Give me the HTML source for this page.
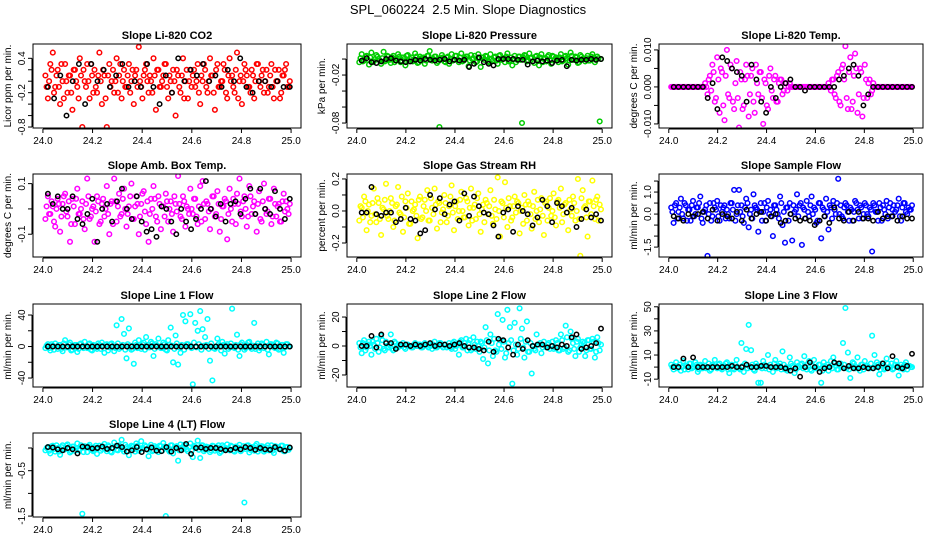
<!DOCTYPE html>
<html><head><meta charset="utf-8"><style>
html,body{margin:0;padding:0;background:#fff;}
svg{display:block;font-family:"Liberation Sans",Arial,sans-serif;}
</style></head><body>
<svg id="c" width="936" height="540" viewBox="0 0 936 540">
<rect width="936" height="540" fill="#fff"/>
<text x="468" y="14" text-anchor="middle" font-size="13" style="white-space:pre">SPL_060224  2.5 Min. Slope Diagnostics</text>
</svg>
<script>
const xTicks=[24.0,24.2,24.4,24.6,24.8,25.0];
const xTickLabels=["24.0","24.2","24.4","24.6","24.8","25.0"];
const titles=["Slope Li-820 CO2","Slope Li-820 Pressure","Slope Li-820 Temp.","Slope Amb. Box Temp.","Slope Gas Stream RH","Slope Sample Flow","Slope Line 1 Flow","Slope Line 2 Flow","Slope Line 3 Flow","Slope Line 4 (LT) Flow"];
const yTitles=["Licor ppm per min.","kPa per min.","degrees C per min.","degrees C per min.","percent per min.","ml/min per min.","ml/min per min.","ml/min per min.","ml/min per min.","ml/min per min."];
const colors=["#ff0000","#00cc00","#ff00ff","#ff00ff","#ffff00","#0000ff","#00ffff","#00ffff","#00ffff","#00ffff"];
const yLims=[[-0.817,0.65],[-0.0862,0.0188],[-0.0111,0.0116],[-0.19,0.138],[-0.2875,0.231],[-1.95,1.82],[-51.4,54],[-28.3,29],[-16.5,52.3],[-1.52,0.33]];
const yTicks=[[-0.8,-0.6,-0.4,-0.2,0,0.2,0.4],[-0.08,-0.06,-0.04,-0.02,0],[-0.01,-0.005,0,0.005,0.01],[-0.1,0,0.1],[-0.2,-0.1,0,0.1,0.2],[-1.5,-1,-0.5,0,0.5,1,1.5],[-40,-20,0,20,40],[-20,-10,0,10,20],[-10,0,10,20,30,40,50],[-1.5,-1,-0.5,0]];
const yLabels=[{"-0.8":"-0.8","-0.2":"-0.2","0.4":"0.4"},{"-0.08":"-0.08","-0.02":"-0.02"},{"-0.01":"-0.010","0":"0.000","0.01":"0.010"},{"-0.1":"-0.1","0.1":"0.1"},{"-0.2":"-0.2","0":"0.0","0.2":"0.2"},{"-1.5":"-1.5","0":"0.0","1":"1.0"},{"-40":"-40","0":"0","40":"40"},{"-20":"-20","0":"0","20":"20"},{"-10":"-10","10":"10","30":"30","50":"50"},{"-1.5":"-1.5","-0.5":"-0.5"}];

const col0=[0.1,-0.3,0.3,0.5,-0.1,0.2,-0.4,0.0,0.3,-0.2,0.1,-0.5,0.2,-0.1,0.4,-0.8,0.0,0.3,-0.3,0.1,0.2,-0.2,0.5,-0.4,0.1,-0.8,0.3,0.0,-0.2,0.4,0.1,-0.3,0.2,-0.1,0.3,0.0,-0.4,0.2,0.6,-0.1,0.1,0.3,-0.2,0.0,0.4,-0.5,0.2,-0.1,0.1,0.3,-0.3,0.0,0.2,-0.6,0.1,-0.2,0.4,0.0,-0.3,0.2,0.1,-0.1,0.3,-0.4,0.0,0.2,-0.2,0.4,0.1,-0.5,0.3,-0.1,0.0,0.2,-0.3,0.4,0.1,-0.2,0.5,0.0,-0.4,0.3,0.1,-0.1,0.2,-0.3,0.3,0.0,0.1,-0.2,0.2,-0.1,0.3,-0.3,0.0,0.2,-0.2,0.1,0.3,-0.1];
const col0b=[-0.1,0.0,0.2,-0.2,0.1,-0.1,0.3,-0.3,0.0,0.1,-0.2,0.2,0.0,-0.3,0.1,0.2,-0.1,0.0,0.3,-0.2,-0.1,0.1,0.0,0.2,-0.3,0.1,-0.1,0.2,0.0,-0.2,0.3,0.0,-0.1,0.1,-0.2,0.2,0.1,-0.1,0.0,-0.3,0.2,0.0,0.1,-0.2,0.1,0.2,-0.1,0.0,0.3,-0.1,0.1,-0.2,0.0,0.2,-0.1,0.1,-0.3,0.2,0.0,-0.1,0.2,0.0,-0.2,0.1,0.3,-0.1,0.0,0.1,-0.2,0.2,-0.1,0.0,0.3,-0.2,0.1,0.0,-0.1,0.2,-0.3,0.1,0.0,0.2,-0.1,-0.2,0.1,0.0,0.3,-0.1,0.2,0.0,-0.2,0.1,-0.1,0.2,0.0,-0.3,0.1,0.2,-0.1,0.0];
const blk0=[-0.1,-0.3,0.1,-0.6,0.0,0.3,-0.4,0.3,0.0,0.2,-0.1,0.1,0.3,-0.1,0.0,-0.1,0.3,-0.1,-0.4,0.1,-0.2,0.4,0.0,0.2,0.1,0.3,0.0,0.1,-0.1,0.2,0.0,0.4,-0.1,-0.2,0.0,0.0,-0.1,0.0,-0.1,-0.1];
const col1=[-0.004,0.006,-0.002,0.004,-0.007,0.008,-0.003,0.005,0.0,-0.006,0.009,-0.002,0.003,-0.005,0.004,-0.001,0.006,-0.004,0.002,-0.008,0.005,0.0,-0.003,0.007,-0.005,0.003,0.001,-0.006,0.004,0.010,-0.002,0.003,-0.005,-0.085,0.005,-0.003,0.002,-0.006,0.006,-0.001,0.004,-0.004,0.007,-0.002,0.003,-0.009,0.005,0.001,-0.004,0.006,-0.010,0.002,0.004,-0.003,0.006,-0.002,0.003,-0.006,0.005,0.0,-0.004,0.007,-0.002,-0.008,0.004,-0.001,0.003,-0.080,0.005,-0.003,0.007,0.002,-0.005,0.004,-0.008,0.006,0.0,-0.003,0.005,-0.006,0.003,0.002,-0.004,0.006,-0.002,0.004,-0.007,0.008,-0.001,0.003,-0.005,0.005,0.0,-0.003,0.004,-0.002,0.006,-0.004,0.003,-0.078];
const col1b=[0.001,-0.003,0.003,-0.001,0.002,-0.004,0.000,0.003,-0.002,0.001,-0.003,0.004,-0.001,0.002,-0.004,0.001,0.003,-0.002,0.000,0.004,-0.003,0.002,-0.001,0.003,-0.004,0.001,0.002,-0.002,0.004,-0.001,0.000,0.003,-0.003,0.001,0.002,-0.004,0.003,0.000,-0.002,0.004,-0.001,0.002,-0.003,0.001,0.003,-0.002,0.000,0.004,-0.003,0.001,0.002,-0.001,0.003,-0.004,0.000,0.002,-0.002,0.004,-0.001,0.001,0.003,-0.003,0.002,0.000,-0.004,0.003,-0.001,0.002,0.004,-0.002,0.001,-0.003,0.003,0.000,0.002,-0.004,0.001,0.003,-0.002,0.004,-0.001,0.000,0.002,-0.003,0.003,0.001,-0.002,0.004,-0.001,0.002,-0.004,0.003,0.000,0.001,-0.002,0.003,0.002,-0.001,0.001,0.000];
const blk1=[-0.002,0.001,-0.004,-0.005,-0.003,0.0,0.001,-0.002,-0.003,-0.004,-0.003,-0.001,-0.002,0.0,-0.001,-0.002,-0.001,0.0,-0.003,-0.001,-0.002,-0.001,-0.010,-0.006,0.002,-0.004,-0.006,-0.008,0.0,0.0,0.0,0.0,-0.001,-0.001,-0.007,-0.003,-0.002,-0.003,-0.002,-0.005,-0.002,-0.001,-0.009,-0.001,-0.002,-0.001,-0.001,0.0,-0.001,0.0];
const col2=[0,0,0,0,0,0,0,0,0,0,0,0,0,0,0.001,-0.002,0.003,0.006,-0.004,0.008,-0.007,0.004,-0.009,0.010,-0.003,0.005,-0.006,0.007,-0.011,0.002,-0.005,0.006,-0.008,0.003,-0.004,0.006,-0.002,0.004,-0.010,0.001,-0.006,0.005,-0.003,0.003,-0.004,0.002,-0.002,0.001,-0.001,0.001,0,0,0,0,0,0,0,0,0,0,0,0,0,0,0,0.001,-0.001,0.002,-0.003,0.004,-0.005,0.006,0.011,-0.006,0.008,-0.004,0.009,-0.007,0.005,-0.008,0.006,-0.003,0.002,-0.001,0,0,0,0,0,0,0,0,0,0,0,0,0,0,0,0];
const col2b=[0,0,0,0,0,0,0,0,0,0,0,0,0,0,0,0.002,-0.001,0.004,-0.003,0.002,0.005,-0.005,0.003,-0.002,0.006,-0.004,0.001,-0.003,0.004,-0.006,0.002,0.003,-0.002,0.005,-0.007,0.001,0.004,-0.003,0.002,-0.005,0.003,-0.001,0.002,-0.004,0.001,0.002,-0.001,0.001,0,0,0,0,0,0,0,0,0,0,0,0,0,0,0,0,0,0,0.002,-0.002,0.003,-0.004,0.005,0.002,-0.003,0.004,-0.006,0.003,0.005,-0.002,0.004,-0.003,0.002,0.001,-0.002,0.001,0,0,0,0,0,0,0,0,0,0,0,0,0,0,0,0];
const blk2=[0,0,0,0,0,0,0,-0.003,0.001,-0.006,0.008,0.007,0.005,0.004,0.003,-0.004,0.006,0.002,-0.004,-0.007,0.0,-0.003,0.0,0.001,0.002,0.0,0.0,-0.001,0.0,0.0,0.0,0.0,0.0,0.0,0.002,0.003,0.005,0.006,0.003,-0.005,-0.002,0.0,0.0,0.0,0.0,0.0,0.0,0.0,0.0,0.0];
const col3=[-0.04,0.05,-0.02,0.01,-0.07,0.04,-0.09,0.02,0.06,-0.03,-0.13,0.04,-0.06,0.08,-0.02,0.03,-0.08,0.12,-0.04,0.00,-0.13,0.05,-0.06,0.02,-0.03,0.09,-0.10,0.03,0.12,-0.05,0.06,-0.02,0.08,-0.07,0.01,0.10,-0.04,0.05,-0.10,0.02,0.07,-0.06,-0.13,0.04,0.09,-0.03,0.05,-0.08,0.01,0.06,-0.05,0.03,-0.09,0.02,0.13,-0.03,0.05,-0.07,0.00,0.08,-0.02,0.04,-0.06,0.09,0.11,-0.04,0.02,-0.08,0.05,-0.03,0.07,-0.09,0.01,0.04,-0.12,0.08,-0.05,0.02,0.06,0.12,-0.03,0.05,-0.07,0.09,-0.02,0.03,-0.09,0.07,-0.05,0.10,-0.02,0.04,-0.06,0.08,-0.03,0.02,-0.05,0.06,0.03,-0.02];
const col3b=[0.01,-0.02,0.03,-0.05,0.00,0.02,-0.03,0.05,-0.01,0.03,-0.06,0.01,0.04,-0.02,0.00,-0.04,0.02,0.05,-0.03,0.01,-0.01,0.03,-0.05,0.04,0.00,-0.02,0.02,-0.06,0.03,0.01,-0.03,0.04,0.00,-0.02,0.05,-0.04,0.01,0.02,-0.03,0.06,-0.01,0.03,-0.02,0.00,0.04,-0.05,0.02,0.01,-0.03,0.03,0.00,-0.02,0.05,-0.01,0.02,-0.04,0.03,0.01,-0.02,0.00,0.04,-0.03,0.01,-0.05,0.02,0.03,-0.01,0.00,0.05,-0.02,0.02,-0.04,0.01,0.03,-0.02,0.00,0.04,-0.06,0.02,-0.01,0.03,0.00,-0.03,0.05,0.01,-0.02,0.02,-0.04,0.03,0.00,-0.01,0.04,-0.03,0.02,0.01,-0.05,0.03,-0.01,0.00,0.02];
const blk3=[0.06,0.02,0.05,0.0,0.0,0.05,-0.04,-0.06,-0.02,0.04,-0.13,0.0,0.02,-0.05,0.03,0.08,0.0,-0.04,0.05,-0.05,-0.09,-0.08,-0.11,0.01,0.0,-0.05,-0.10,0.0,-0.05,-0.08,-0.04,0.0,0.11,0.0,-0.03,0.02,-0.05,0.02,0.03,-0.02,0.04,0.08,-0.02,0.08,0.0,-0.02,0.07,0.0,-0.04,0.04];
const col4=[0.02,-0.06,0.10,-0.12,0.04,-0.02,0.07,-0.15,0.00,0.16,-0.08,0.05,-0.03,0.13,-0.10,0.02,0.08,-0.05,0.00,-0.17,0.10,-0.04,0.06,0.14,-0.09,0.01,-0.13,0.07,-0.02,0.12,0.03,-0.07,0.09,-0.01,0.15,-0.11,0.05,0.17,-0.06,0.02,-0.03,0.11,-0.09,0.06,0.00,-0.14,0.08,0.14,-0.04,0.03,-0.10,0.07,0.00,-0.06,0.13,-0.02,0.09,-0.12,0.04,0.22,-0.05,0.10,0.01,-0.08,0.06,0.18,-0.03,0.11,-0.16,0.02,0.07,-0.05,0.09,-0.02,0.12,0.04,-0.09,0.06,-0.01,-0.17,0.08,0.03,-0.06,0.10,-0.03,0.14,-0.08,0.05,0.01,-0.12,0.09,-0.04,0.16,0.02,-0.07,0.07,0.00,-0.15,0.04,0.03];
const col4b=[0.05,-0.02,0.01,0.06,-0.05,0.03,-0.01,0.08,-0.04,0.02,0.00,-0.07,0.05,0.01,-0.03,0.07,-0.02,0.04,-0.06,0.03,0.00,0.06,-0.04,0.02,-0.01,0.08,-0.05,0.03,0.01,-0.03,0.06,-0.02,0.04,-0.06,0.00,0.05,-0.03,0.02,0.07,-0.04,0.01,-0.02,0.05,0.00,-0.06,0.03,0.04,-0.01,0.06,-0.03,0.02,0.00,-0.05,0.07,-0.01,0.03,-0.04,0.05,0.01,-0.02,0.06,-0.06,0.02,0.04,-0.03,0.00,0.07,-0.02,0.03,-0.05,0.05,0.01,-0.01,0.04,-0.04,0.02,0.06,-0.03,0.00,0.05,-0.02,0.03,-0.06,0.01,0.04,-0.01,0.07,-0.03,0.02,0.00,-0.04,0.05,0.01,-0.02,0.06,-0.05,0.03,0.00,0.04,-0.01];
const blk4=[-0.01,-0.03,-0.02,0.05,-0.06,0.03,-0.07,-0.04,-0.03,0.05,0.02,-0.10,-0.05,0.06,0.0,-0.06,0.04,-0.04,-0.09,0.03,-0.01,0.07,-0.02,-0.11,-0.04,0.03,-0.14,-0.02,-0.10,-0.04,-0.12,-0.04,-0.09,0.0,-0.06,0.03,-0.07,0.04,0.01,-0.07,-0.03,-0.11,0.0,0.05,-0.06,0.02,-0.05,-0.08,0.03,-0.06];
const col5=[-0.06,0.02,0.09,-0.12,0.04,-0.03,0.14,-0.07,0.05,-0.15,0.01,0.17,-0.05,0.08,-0.10,0.03,0.15,-0.02,-0.13,0.06,0.11,-0.08,0.00,0.04,-0.17,0.09,-0.04,0.07,0.13,-0.06,0.02,0.14,-0.11,0.05,-0.01,0.10,-0.07,0.03,0.16,-0.12,0.06,0.00,0.12,-0.04,0.08,-0.09,0.14,0.02,-0.05,0.11,-0.13,0.04,0.07,-0.02,0.13,-0.08,0.01,0.21,-0.16,0.05,0.18,-0.10,0.03,-0.04,0.09,0.06,-0.14,0.02,0.10,-0.06,0.04,-0.11,0.12,0.00,-0.07,0.08,-0.15,0.06,0.02,-0.03,0.11,-0.09,0.07,0.14,-0.02,0.05,-0.12,0.01,0.09,-0.06,0.20,-0.28,0.13,0.03,-0.16,0.06,0.19,-0.05,0.09,0.04];
const col5b=[0.03,-0.04,0.06,0.00,-0.07,0.05,-0.02,0.08,-0.05,0.02,0.07,-0.03,0.00,0.05,-0.06,0.04,-0.01,0.09,-0.04,0.02,-0.08,0.06,0.01,-0.03,0.07,-0.05,0.03,0.00,-0.06,0.08,-0.02,0.04,0.06,-0.07,0.01,0.05,-0.03,0.09,-0.01,0.03,-0.05,0.07,0.00,-0.04,0.06,0.02,-0.06,0.04,0.08,-0.02,0.01,-0.07,0.05,0.03,-0.03,0.07,-0.05,0.00,0.06,-0.04,0.02,0.08,-0.06,0.03,-0.01,0.05,0.00,-0.08,0.04,0.06,-0.02,0.03,-0.05,0.07,0.01,-0.03,0.05,-0.06,0.08,0.00,-0.04,0.06,0.02,-0.07,0.04,-0.01,0.07,-0.03,0.05,0.00,-0.05,0.08,0.02,-0.04,0.06,-0.02,0.03,0.07,-0.06,0.01];
const blk5=[-0.01,-0.01,0.15,-0.02,-0.03,-0.01,-0.01,-0.07,-0.05,0.02,-0.05,-0.06,-0.14,-0.12,0.10,0.01,0.08,-0.02,0.04,0.06,-0.06,0.11,-0.03,0.09,0.03,-0.01,-0.02,-0.09,-0.16,-0.01,0.01,-0.13,0.03,0.0,-0.02,-0.09,-0.04,0.07,0.03,-0.07,0.05,0.03,-0.01,0.02,-0.10,-0.05,0.01,-0.04,-0.02,-0.06];
const col6=[0.3,-0.4,0.5,0.1,0.7,-0.2,0.4,0.2,-0.3,0.6,0.0,0.3,0.8,-0.4,0.2,-1.9,0.5,-0.1,0.3,0.6,-0.3,0.1,0.4,0.2,-0.2,0.5,1.1,0.0,1.1,0.4,-0.4,0.7,-0.6,0.2,0.9,0.3,-0.8,0.5,0.1,-0.3,0.6,0.2,-1.0,0.4,0.0,0.8,-0.5,-1.3,0.3,0.5,-1.2,0.1,0.9,0.4,-1.4,0.2,0.6,-0.1,0.8,0.3,-0.4,0.5,-1.1,0.2,0.7,-0.7,0.3,0.6,0.0,1.6,0.4,-0.2,0.5,0.1,0.3,-0.3,0.6,0.2,0.4,-0.2,0.5,0.0,0.3,-1.7,0.4,0.1,0.5,-0.3,0.2,0.6,0.3,-0.1,0.4,0.2,0.7,-0.3,0.5,0.1,0.3,0.2];
const col6b=[0.1,0.4,-0.2,0.3,0.0,0.5,-0.3,0.2,0.4,-0.1,0.3,0.5,-0.2,0.1,0.4,0.0,-0.3,0.5,0.2,-0.1,0.4,0.3,-0.2,0.0,0.5,0.2,-0.3,0.4,0.1,-0.1,0.3,0.5,0.0,-0.2,0.4,0.2,0.1,-0.3,0.5,0.3,0.0,-0.1,0.4,0.2,-0.2,0.5,0.1,0.3,-0.3,0.0,0.4,0.2,-0.1,0.5,0.3,-0.2,0.1,0.4,0.0,0.2,-0.3,0.5,0.3,-0.1,0.1,0.4,-0.2,0.2,0.5,0.0,-0.1,0.3,0.4,-0.3,0.2,0.1,0.5,-0.2,0.3,0.0,0.4,-0.1,0.2,0.5,0.1,-0.3,0.3,0.4,0.0,-0.2,0.5,0.2,0.1,0.4,-0.1,0.3,0.5,0.0,0.2,0.4];
const blk6=[-0.1,-0.2,-0.3,0.0,-0.1,0.0,0.1,-0.2,0.2,-0.3,0.0,-0.1,-0.2,0.1,-0.3,0.2,-0.2,0.0,0.1,-0.3,-0.1,0.0,-0.4,-0.3,0.0,-0.2,-0.3,-0.2,-0.3,-0.5,-0.3,-0.1,-0.4,0.3,-0.2,-0.3,0.1,-0.3,0.1,-0.2,-0.2,-0.3,0.1,-0.2,-0.1,-0.1,-0.3,-0.1,-0.2,-0.2];
const col7=[-2,3,-5,1,4,-3,2,-6,8,-1,5,-4,2,-7,3,0,6,-2,4,-5,1,-3,2,5,-8,3,-1,4,-6,27,-3,35,16,-15,23,-4,-22,2,8,-3,5,12,-1,6,-12,3,10,-2,5,-4,8,24,-20,14,-23,-8,40,32,3,41,-48,30,20,45,22,12,35,-18,-43,-3,10,1,6,-9,3,-1,48,-2,15,-12,5,-4,2,6,-3,30,1,-5,4,-2,6,-10,3,-1,5,-4,2,-8,3,0];
const col7b=[1,-2,3,-4,0,2,-3,4,-1,3,-5,1,2,-3,4,-2,0,3,-4,2,-1,4,-3,1,2,-5,3,0,-2,4,-1,2,-4,3,1,-3,5,-2,0,3,-4,2,-1,4,-3,1,0,-2,3,-5,2,1,-3,4,-1,2,-4,3,0,-2,5,-1,3,-4,1,2,-3,4,-2,0,3,-5,2,1,-3,4,-1,2,-4,3,0,-2,5,-1,1,-3,4,-2,2,0,-4,3,1,-2,4,-3,2,-1,3,0];
const blk7=[0,0,0,0,0,0,0,0,0,0,0,0,0,0,0,0,0,0,0,0,0,0,0,0,0,0,0,0,0,0,0,0,0,0,0,0,0,0,0,0,0,0,0,0,0,0,0,0,0,0];
const col8=[2,-5,4,-1,3,-6,1,5,-4,7,-2,3,-1,8,-3,2,-1,0,2,-2,1,0,-1,2,0,1,-1,2,0,1,-2,3,-1,2,0,1,-1,2,-2,3,0,-6,4,-1,5,2,-3,6,-2,0,3,-9,13,-12,8,-7,-3,22,4,18,-8,25,13,-26,16,-6,26,12,-8,17,-4,-19,-2,8,1,-5,3,-1,2,0,-2,4,-3,8,-2,14,-4,10,2,-7,5,-1,3,-7,4,-2,5,-8,6,-3];
const col8b=[-1,2,-3,1,0,3,-2,2,-1,4,-3,0,1,-2,3,-1,1,0,-1,1,0,-1,1,0,1,-1,0,1,-1,0,1,-1,0,2,-1,1,0,-1,2,-2,1,3,-1,2,-3,4,-2,1,3,-4,2,-1,4,-3,2,5,-4,1,-2,3,-5,2,4,-3,1,-2,5,-1,3,-4,2,0,-3,1,2,-1,0,1,-2,3,-1,2,-3,4,-1,6,-3,5,-2,3,-4,1,2,-3,4,-2,3,-4,2,1];
const blk8=[0,0,7,-1,8,2,2,-2,1,1,0,1,0,1,2,0,1,1,0,1,2,0,-1,-1,-2,-3,3,-4,5,4,-1,-6,1,-2,4,0,1,1,-1,0,-1,1,0,6,8,-2,-1,0,2,12];
const col9=[2,-2,4,0,-3,5,1,-2,3,0,4,-4,2,-1,5,0,-3,2,6,-1,3,-2,0,4,-5,2,-2,6,-1,20,-4,15,35,14,-2,3,-13,-13,5,-1,10,2,-4,6,0,3,13,-2,-3,8,1,-5,4,0,3,9,-2,5,-3,6,-1,2,-13,4,0,-3,5,8,1,-2,3,20,49,12,-9,4,-1,8,-3,2,5,1,-1,26,10,4,-6,3,-2,7,0,3,-1,5,-7,2,-2,4,1,0];
const col9b=[0,1,-1,2,0,-2,1,3,-1,0,2,-2,1,0,-1,3,-2,1,0,2,-1,0,3,-2,1,-1,2,0,-2,1,3,-1,0,2,-3,1,0,-1,2,1,-2,0,3,-1,1,-2,2,0,-1,3,0,-2,1,2,-1,0,3,-2,1,0,-1,2,-3,1,2,0,-1,3,-2,1,0,2,-1,-2,1,3,0,-1,2,-2,1,0,3,-1,0,2,-2,1,-1,3,0,-2,2,1,-1,0,2,-2,1,0];
const blk9=[0,0,7,0,8,0,0,0,0,0,0,0,1,0,0,2,0,0,1,1,0,0,0,-1,-3,-1,-8,0,4,0,-4,-1,0,4,3,-1,1,-1,-1,0,-1,-1,0,3,-1,9,0,-1,1,11];
const col10=[-0.05,0.02,-0.12,0.05,-0.08,0.00,-0.15,0.06,-0.03,0.08,-0.10,0.03,-0.06,0.10,-0.02,-1.45,0.04,-0.09,0.07,-0.05,0.01,-0.13,0.05,-0.02,0.09,-0.07,0.03,-0.10,0.12,-0.04,0.06,0.18,-0.08,0.02,-0.16,0.05,-0.03,0.10,-0.06,0.15,-0.02,0.03,-0.18,0.07,-0.05,0.01,-0.09,0.04,0.11,-1.50,-0.04,0.06,-0.12,0.02,-0.28,0.08,-0.03,0.05,-0.07,0.10,-0.20,0.03,0.16,-0.22,0.06,-0.04,0.02,-0.09,0.05,-0.06,0.01,-0.11,0.06,-0.03,0.08,-0.05,0.03,-0.08,0.00,0.07,-0.04,-1.20,0.05,-0.10,0.02,-0.06,0.09,-0.03,0.04,-0.08,0.01,-0.05,0.06,-0.11,0.03,-0.02,0.05,-0.07,0.02,-0.04];
const col10b=[0.00,-0.06,0.04,-0.02,0.06,-0.08,0.02,-0.04,0.05,-0.01,-0.07,0.03,0.00,-0.05,0.06,-0.09,0.02,0.04,-0.03,-0.07,0.05,0.01,-0.06,0.03,-0.02,0.06,-0.08,0.00,0.04,-0.05,0.02,-0.03,0.07,-0.06,0.01,0.03,-0.08,0.05,-0.02,0.00,0.06,-0.04,0.02,-0.07,0.04,-0.01,0.05,-0.06,0.03,0.00,-0.08,0.06,-0.02,0.04,-0.05,0.01,0.07,-0.03,0.02,-0.06,0.05,0.00,-0.04,0.06,-0.07,0.03,0.01,-0.05,0.04,-0.02,0.06,-0.08,0.02,0.00,-0.03,0.05,-0.06,0.03,0.01,-0.07,0.04,-0.02,0.06,-0.04,0.00,0.05,-0.08,0.02,0.03,-0.05,0.06,-0.01,-0.06,0.04,0.01,-0.03,0.05,-0.07,0.02,0.00];
const blk10=[0.02,0.01,-0.03,-0.05,0.0,-0.03,-0.12,0.03,0.02,-0.01,0.0,0.03,-0.02,0.0,0.05,0.02,-0.08,-0.05,0.02,-0.09,-0.03,0.01,-0.06,-0.07,0.02,-0.08,0.0,-0.05,0.09,-0.13,0.0,0.01,-0.02,0.0,0.0,-0.02,-0.05,-0.04,0.0,-0.03,0.02,0.0,-0.04,0.0,-0.03,-0.04,0.02,-0.03,-0.06,0.01];
</script>
<script>
(function(){
const svg=document.getElementById('c');
const NS='http://www.w3.org/2000/svg';
const colL=[33,347,659], colR=[301,612,923];
const rowT=[44,174,304,433], rowB=[128,257,387,517];
const xlim=[23.96,25.04];
function mk(tag,attrs,parent){const e=document.createElementNS(NS,tag);for(const k in attrs)e.setAttribute(k,attrs[k]);(parent||svg).appendChild(e);return e;}
const cMap=[col0,col1,col2,col3,col5,col6,col7,col8,col9,col10];
const cMapB=[col0b,col1b,col2b,col3b,col5b,col6b,col7b,col8b,col9b,col10b];
const bMap=[blk0,blk1,blk2,blk3,blk5,blk6,blk7,blk8,blk9,blk10];
for(let p=0;p<10;p++){
  const L=colL[p%3],R=colR[p%3],T=rowT[Math.floor(p/3)],B=rowB[Math.floor(p/3)];
  const yl=yLims[p];
  const xs=v=>L+(v-xlim[0])/(xlim[1]-xlim[0])*(R-L);
  const ys=v=>B-(v-yl[0])/(yl[1]-yl[0])*(B-T);
  const g=mk('g',{});
  
  
  const clip=mk('clipPath',{id:'cl'+p},g);mk('rect',{x:L,y:T,width:R-L,height:B-T},clip);
  const pts=mk('g',{'clip-path':'url(#cl'+p+')'},g);
  const drawC=(cs,off)=>cs.forEach((v,i)=>{
    const x=24.01+off+i*0.98/(cs.length-1);
    const c=mk('circle',{cx:xs(x).toFixed(1),cy:ys(v).toFixed(1),r:2.3,fill:'none',stroke:colors[p],'stroke-width':1.5},pts);
    
    
  });
  drawC(cMap[p],0);
  drawC(cMapB[p],0.005);
  const bs=bMap[p];
  bs.forEach((v,i)=>{
    const x=24.02+i*0.975/(bs.length-1);
    const c=mk('circle',{cx:xs(x).toFixed(1),cy:ys(v).toFixed(1),r:2.2,fill:'none',stroke:'#000','stroke-width':1.5},pts);
    
    
  });
  const box=mk('rect',{x:L,y:T,width:R-L,height:B-T,fill:'none',stroke:'#000','stroke-width':1},g);
  
  
  const t=mk('text',{x:(L+R)/2,y:T-5,'text-anchor':'middle','font-size':11,'font-weight':'bold'},g);
  t.textContent=titles[p];
  
  
  const ax=mk('g',{},g);
  
  
  mk('line',{x1:xs(24),x2:xs(25),y1:B+1,y2:B+1,stroke:'#000'},ax);
  xTicks.forEach((v,i)=>{
    mk('line',{x1:xs(v),x2:xs(v),y1:B+1,y2:B+5,stroke:'#000'},ax);
    const tl=mk('text',{x:xs(v),y:B+16,'text-anchor':'middle','font-size':10},ax);
    tl.textContent=xTickLabels[i];
  });
  const ay=mk('g',{},g);
  
  
  const yt=yTicks[p];
  mk('line',{x1:L-1,x2:L-1,y1:ys(yt[0]),y2:ys(yt[yt.length-1]),stroke:'#000'},ay);
  yt.forEach(v=>{
    mk('line',{x1:L-5,x2:L-1,y1:ys(v),y2:ys(v),stroke:'#000'},ay);
    const lab=yLabels[p][String(v)];
    if(lab){const tl=mk('text',{x:0,y:0,'text-anchor':'middle','font-size':10,transform:'translate('+(L-8)+','+ys(v)+') rotate(-90)'},ay);tl.textContent=lab;}
  });
  const yt2=mk('text',{x:0,y:0,'text-anchor':'middle','font-size':10,transform:'translate('+(L-22)+','+((T+B)/2)+') rotate(-90)'},g);
  yt2.textContent=yTitles[p];
  
  
}
})();
</script>
</body></html>
